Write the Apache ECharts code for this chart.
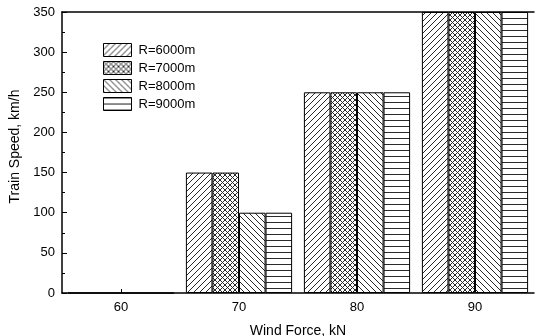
<!DOCTYPE html>
<html>
<head>
<meta charset="utf-8">
<script src="https://cdn.jsdelivr.net/npm/echarts@6/dist/echarts.min.js"></script>
<style>
  html, body { margin: 0; padding: 0; background: #fff; }
  #chart { width: 535px; height: 336px; }
</style>
</head>
<body>
<div id="chart"></div>
<script>
// Wind force groups and train speed per curve radius
const categories = ['60', '70', '80', '90'];
const seriesNames = ['R=6000m', 'R=7000m', 'R=8000m', 'R=9000m'];
const r6000 = [0, 150, 250, 350];
const r7000 = [0, 150, 250, 350];
const r8000 = [0, 100, 250, 350];
const r9000 = [0, 100, 250, 350];
const yTicks = { min: 0, max: 350, interval: 50 };

// Hatch fills drawn into small repeating tiles
function makeTile(size, draw) {
  const c = document.createElement('canvas');
  c.width = size; c.height = size;
  const g = c.getContext('2d');
  g.fillStyle = '#fff';
  g.fillRect(0, 0, size, size);
  g.fillStyle = '#2a2a2a';
  draw(g, size);
  return { image: c, repeat: 'repeat' };
}
const slash = makeTile(6, (g, s) => { for (let i = 0; i < s; i++) g.fillRect(i, s - 1 - i, 1, 1); });
const cross = makeTile(5, (g, s) => {
  for (let i = 0; i < s; i++) { g.fillRect(i, s - 1 - i, 1, 1); g.fillRect(i, i, 1, 1); }
});
const backslash = makeTile(6, (g, s) => { for (let i = 0; i < s; i++) g.fillRect(i, i, 1, 1); });
const horiz = makeTile(6, (g, s) => { g.fillRect(0, 0, s, 1); });
const fills = [slash, cross, backslash, horiz];
const values = [r6000, r7000, r8000, r9000];

const font = "'Liberation Sans', Arial, Helvetica, sans-serif";
const chart = echarts.init(document.getElementById('chart'), null, { renderer: 'canvas' });

chart.setOption({
  animation: false,
  backgroundColor: '#fff',
  textStyle: { fontFamily: font, color: '#000' },
  grid: { left: 62, right: 1, top: 12, bottom: 43, containLabel: false, outerBoundsMode: 'none' },
  legend: {
    orient: 'vertical',
    left: 103, top: 43,
    padding: 0,
    itemWidth: 28, itemHeight: 13, itemGap: 4,
    itemStyle: { borderWidth: 1, borderColor: '#000' },
    textStyle: { fontFamily: font, fontSize: 13, lineHeight: 13, color: '#000', padding: [0, 0, 0, 2] },
    data: seriesNames.map((n) => ({ name: n, icon: 'rect' }))
  },
  xAxis: [
    {
      type: 'category',
      data: categories,
      boundaryGap: true,
      name: 'Wind Force, kN',
      nameLocation: 'middle',
      nameGap: 31,
      nameTextStyle: { fontFamily: font, fontSize: 14, color: '#000' },
      axisLine: { show: true, lineStyle: { color: '#000', width: 1.5 } },
      axisTick: { show: true, inside: true, alignWithLabel: true, length: 4, lineStyle: { color: '#000' } },
      axisLabel: { margin: 8, fontFamily: font, fontSize: 13, color: '#000' }
    },
    {
      type: 'category',
      data: categories,
      position: 'top',
      axisLine: { show: true, lineStyle: { color: '#000', width: 1.5 } },
      axisTick: { show: false },
      axisLabel: { show: false }
    }
  ],
  yAxis: {
    type: 'value',
    min: yTicks.min, max: yTicks.max, interval: yTicks.interval,
    name: 'Train Speed, km/h',
    nameLocation: 'middle',
    nameGap: 27,
    nameTextStyle: { fontFamily: font, fontSize: 14, color: '#000', padding: [0, 0, 0, 12] },
    axisLine: { show: true, lineStyle: { color: '#000', width: 1.5 } },
    axisTick: { show: true, inside: true, length: 5, lineStyle: { color: '#000' } },
    minorTick: { show: true, splitNumber: 2, length: 3, lineStyle: { color: '#000' } },
    splitLine: { show: false },
    axisLabel: { margin: 7, fontFamily: font, fontSize: 13, color: '#000' }
  },
  series: seriesNames.map((name, i) => ({
    name,
    type: 'bar',
    data: values[i],
    barGap: '0%',
    barCategoryGap: '10%',
    itemStyle: { color: fills[i], borderColor: '#000', borderWidth: 1 }
  }))
});
</script>
</body>
</html>
